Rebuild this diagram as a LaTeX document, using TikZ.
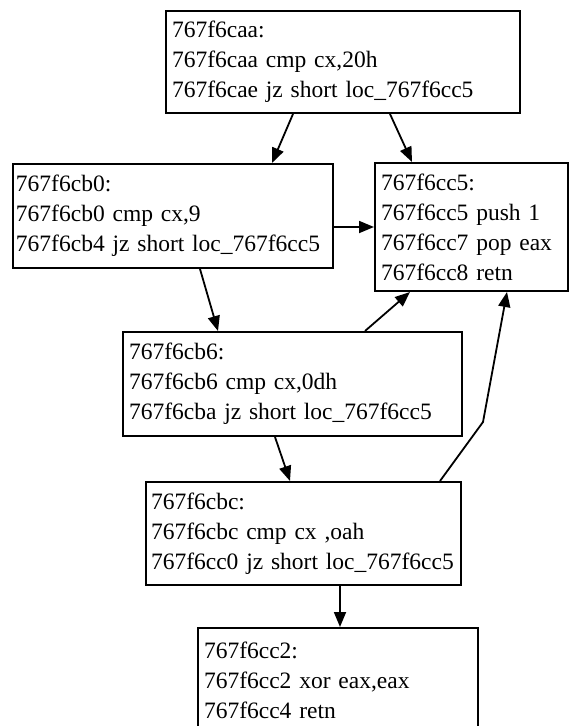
\documentclass[tikz,border=0pt]{standalone}
\usepackage{fontspec}
\setmainfont{Liberation Serif}
\usetikzlibrary{arrows.meta,calc}
\tikzset{
  blk/.style={draw=black, line width=2pt, fill=white, anchor=north west, align=left,
    inner xsep=6pt, inner ysep=0pt, font=\fontsize{23.5pt}{30pt}\selectfont},
  arr/.style={draw=black, line width=1.8pt, -{Triangle[length=15pt,width=12pt]}}
}
\begin{document}
\begin{tikzpicture}[x=1pt,y=-1pt]
\useasboundingbox (0,0) rectangle (568,726);
\fill[white] (0,0) rectangle (568,726);
% boxes
\node[blk, minimum width=354pt, minimum height=102pt, text width=342pt] (A) at (165,10)
  {\mbox{767f6caa:}\\\mbox{767f6caa cmp cx,20h}\\\mbox{767f6cae jz short loc\_767f6cc5}};
\node[blk, inner xsep=3pt, minimum width=320pt, minimum height=104pt, text width=314pt] (B) at (12,163)
  {\mbox{767f6cb0:}\\\mbox{767f6cb0 cmp cx,9}\\\mbox{767f6cb4 jz short loc\_767f6cc5}};
\node[blk, minimum width=193pt, minimum height=128pt, text width=181pt] (C) at (374,162)
  {\mbox{767f6cc5:}\\\mbox{767f6cc5 push 1}\\\mbox{767f6cc7 pop eax}\\\mbox{767f6cc8 retn}};
\node[blk, minimum width=339pt, minimum height=104pt, text width=327pt] (D) at (122,331)
  {\mbox{767f6cb6:}\\\mbox{767f6cb6 cmp cx,0dh}\\\mbox{767f6cba jz short loc\_767f6cc5}};
\node[blk, inner xsep=5pt, minimum width=315pt, minimum height=103pt, text width=305pt] (E) at (145,481)
  {\mbox{767f6cbc:}\\\mbox{767f6cbc cmp cx ,oah}\\\mbox{767f6cc0 jz short loc\_767f6cc5}};
\node[blk, minimum width=280pt, minimum height=104pt, text width=268pt] (F) at (197,627)
  {\mbox{767f6cc2:}\\\mbox{767f6cc2 xor eax,eax}\\\mbox{767f6cc4 retn}};
% connectors
\draw[arr] ($(A.south west)+(128,0)$) -- ($(B.north west)+(260,0)$);
\draw[arr] ($(A.south west)+(225,0)$) -- ($(C.north west)+(38,0)$);
\coordinate (bc) at ($(B.north east)+(0,64)$);
\draw[arr] (bc) -- (bc -| C.west);
\draw[arr] ($(B.south west)+(188,0)$) -- ($(D.north west)+(96,0)$);
\draw[arr] ($(D.north west)+(243,0)$) -- ($(C.south west)+(36,0)$);
\coordinate (bend) at (483,422);
\draw[arr] ($(E.north west)+(295,0)$) -- (bend) -- ($(C.south west)+(133,0)$);
\draw[arr] ($(D.south west)+(153,0)$) -- ($(E.north west)+(145,0)$);
\draw[arr] ($(E.south west)+(195,0)$) -- ($(F.north west)+(143,0)$);
\end{tikzpicture}
\end{document}
